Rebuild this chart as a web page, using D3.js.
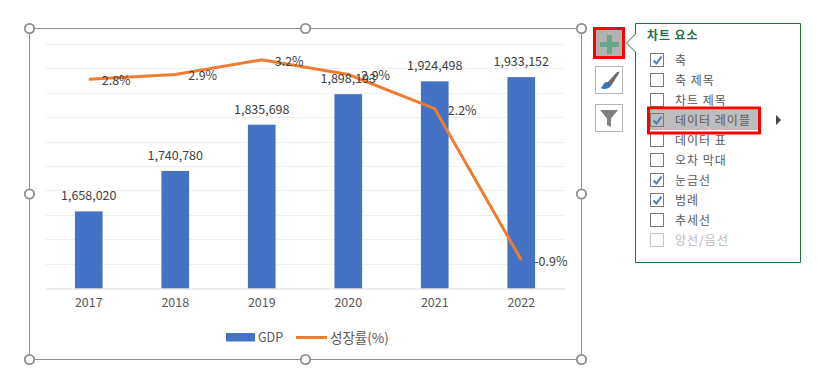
<!DOCTYPE html>
<html>
<head>
<meta charset="utf-8">
<script src="https://cdn.jsdelivr.net/npm/d3@7"></script>
<style>
  html, body { margin: 0; padding: 0; background: #fff; overflow: hidden; }
  text { font-family: "Noto Sans CJK KR", "Noto Sans", sans-serif; }
</style>
</head>
<body>
<script>
const years = ['2017', '2018', '2019', '2020', '2021', '2022'];
const gdp = [1658020, 1740780, 1835698, 1898193, 1924498, 1933152];
const growth = [2.8, 2.9, 3.2, 2.9, 2.2, -0.9];
const growthLabels = ['2.8%', '2.9%', '3.2%', '2.9%', '2.2%', '-0.9%'];
const seriesNames = ['GDP', '성장률(%)'];

const menuTitle = '차트 요소';
const menuItems = ['축', '축 제목', '차트 제목', '데이터 레이블', '데이터 표', '오차 막대', '눈금선', '범례', '추세선', '양선/음선'];
const menuChecked = [true, false, false, true, false, false, true, true, false, false];
const menuDisabled = [false, false, false, false, false, false, false, false, false, true];
const menuActive = 3;

const outerWidth = 818;
const outerHeight = 375;

const blue = '#4472c4';
const orange = '#ed7d31';
const green = '#217346';

const svg = d3.select('body').append('svg')
  .attr('width', outerWidth)
  .attr('height', outerHeight)
  .style('display', 'block');

// plot scales, the value axes are hidden in the original but the grid follows them
const xScale = d3.scaleBand().domain(years).range([45.5, 564.5]).paddingInner(0.68).paddingOuter(0.34);
const yScale = d3.scaleLinear().domain([1500000, 2000000]).range([288.5, 44.5]);
const y2Scale = d3.scaleLinear().domain([-1.5, 3.5]).range([289.2, 45.2]);
const center = d => xScale(d) + xScale.bandwidth() / 2;

// chart frame
svg.append('rect')
  .attr('x', 29.5).attr('y', 28.5)
  .attr('width', 552).attr('height', 331)
  .attr('fill', '#fff')
  .attr('stroke', '#8e8e8e');

// gridlines
svg.append('g').selectAll('line')
  .data(yScale.ticks(10).slice(1))
  .join('line')
    .attr('x1', 45.5).attr('x2', 564.5)
    .attr('y1', d => Math.floor(yScale(d)) + 0.5)
    .attr('y2', d => Math.floor(yScale(d)) + 0.5)
    .attr('stroke', '#f0f0f0');

// bars
svg.append('g').selectAll('rect')
  .data(gdp)
  .join('rect')
    .attr('x', (d, i) => xScale(years[i]))
    .attr('y', d => yScale(d))
    .attr('width', xScale.bandwidth())
    .attr('height', d => yScale.range()[0] - yScale(d))
    .attr('fill', blue);

// x axis
const xAxisG = svg.append('g')
  .attr('transform', 'translate(0,288.5)')
  .call(d3.axisBottom(xScale).tickSize(0).tickPadding(10));
xAxisG.select('.domain').attr('stroke', '#d9d9d9');
xAxisG.selectAll('text')
  .style('font-family', '"Noto Sans CJK KR", "Noto Sans", sans-serif')
  .style('font-size', '12.5px')
  .attr('fill', '#595959');

// growth line
const line = d3.line()
  .x((d, i) => center(years[i]))
  .y(d => y2Scale(d));
svg.append('path')
  .attr('d', line(growth))
  .attr('fill', 'none')
  .attr('stroke', orange)
  .attr('stroke-width', 3);

// data labels
svg.append('g').selectAll('text')
  .data(gdp)
  .join('text')
    .attr('x', (d, i) => center(years[i]))
    .attr('y', d => yScale(d) - 11)
    .attr('text-anchor', 'middle')
    .attr('font-size', 12.5)
    .attr('fill', '#404040')
    .text(d => d3.format(',')(d));

svg.append('g').selectAll('text')
  .data(growth)
  .join('text')
    .attr('x', (d, i) => center(years[i]) + 13)
    .attr('y', d => y2Scale(d) + 6)
    .attr('font-size', 12.5)
    .attr('fill', '#404040')
    .text((d, i) => growthLabels[i]);

// legend
const legendG = svg.append('g');
legendG.append('rect')
  .attr('x', 226).attr('y', 333)
  .attr('width', 29).attr('height', 8.5)
  .attr('fill', blue);
legendG.append('text')
  .attr('x', 258).attr('y', 341.5)
  .attr('font-size', 12.5)
  .attr('fill', '#595959')
  .text(seriesNames[0]);
legendG.append('line')
  .attr('x1', 296).attr('x2', 327)
  .attr('y1', 337.5).attr('y2', 337.5)
  .attr('stroke', orange)
  .attr('stroke-width', 3);
legendG.append('text')
  .attr('x', 330).attr('y', 342.5)
  .attr('font-size', 13.5)
  .attr('fill', '#595959')
  .text(seriesNames[1]);

// selection handles
const handleX = [29.5, 305.5, 581.5];
const handleY = [28.5, 194, 359.5];
handleX.forEach((hx, i) => handleY.forEach((hy, j) => {
  if (i === 1 && j === 1) return;
  svg.append('circle')
    .attr('cx', hx).attr('cy', hy).attr('r', 4.7)
    .attr('fill', '#fff')
    .attr('stroke', '#8e8e8e')
    .attr('stroke-width', 1.8);
}));

// side buttons
svg.append('rect')
  .attr('x', 594.5).attr('y', 28.5).attr('width', 29).attr('height', 29)
  .attr('fill', '#b2b2b2').attr('stroke', '#ff0000').attr('stroke-width', 3);
svg.append('path')
  .attr('d', 'M607 35h5v7h7v5h-7v7h-5v-7h-7v-5h7z')
  .attr('fill', '#6aa68b');

[66, 104].forEach(top => {
  svg.append('rect')
    .attr('x', 595.5).attr('y', top + 0.5).attr('width', 27).attr('height', 27)
    .attr('fill', '#fff').attr('stroke', '#b5b5b5');
});
// brush
svg.append('path')
  .attr('d', 'M607 83L617 72L619.5 71.5L618 75L611 86Z')
  .attr('fill', '#6d6d6d');
svg.append('path')
  .attr('d', 'M600.5 88C603 87.5 603 82 607 82C610.5 82 612 85 610 87C608 89.3 603 89.5 600.5 88Z')
  .attr('fill', '#3f74b5');
// filter
svg.append('path')
  .attr('d', 'M600 110H618L611 118.5V127L607 125V118.5Z')
  .attr('fill', '#7f7f7f');

// chart elements panel
svg.append('path')
  .attr('d', 'M635.5 23.5H800.5V262.5H635.5V52L626.5 43L635.5 34Z')
  .attr('fill', '#fff')
  .attr('stroke', green);

svg.append('text')
  .attr('x', 647).attr('y', 40)
  .attr('font-size', 12)
  .attr('font-weight', 700)
  .attr('letter-spacing', 0.9)
  .attr('fill', green)
  .text(menuTitle);

const rowScale = d3.scalePoint().domain(menuItems).range([60, 240]);

svg.append('rect')
  .attr('x', 650).attr('y', rowScale(menuItems[menuActive]) - 10)
  .attr('width', 108).attr('height', 20)
  .attr('fill', '#bdbdbd');

const rows = svg.append('g').selectAll('g')
  .data(menuItems)
  .join('g')
    .attr('transform', d => `translate(0,${rowScale(d)})`);

rows.append('rect')
  .attr('x', 650.5).attr('y', -6.5)
  .attr('width', 13).attr('height', 13)
  .attr('fill', (d, i) => i === menuActive ? '#bdbdbd' : '#fff')
  .attr('stroke', (d, i) => menuDisabled[i] ? '#c4c4c4' : '#7a7a7a');

rows.filter((d, i) => menuChecked[i]).append('path')
  .attr('d', 'M653.5 0.5L656.5 3.5L661.5 -3.5')
  .attr('fill', 'none')
  .attr('stroke', '#4a7ebb')
  .attr('stroke-width', 2);

rows.append('text')
  .attr('x', 675).attr('y', 4.5)
  .attr('font-size', 12)
  .attr('letter-spacing', 1)
  .attr('fill', (d, i) => menuDisabled[i] ? '#b8b8b8' : '#5a5a5a')
  .text(d => d);

svg.append('rect')
  .attr('x', 648.5).attr('y', rowScale(menuItems[menuActive]) - 12)
  .attr('width', 111).attr('height', 25)
  .attr('fill', 'none')
  .attr('stroke', '#ff0000')
  .attr('stroke-width', 3);

svg.append('path')
  .attr('d', `M776 ${rowScale(menuItems[menuActive]) - 5}L781 ${rowScale(menuItems[menuActive])}L776 ${rowScale(menuItems[menuActive]) + 5}Z`)
  .attr('fill', '#404040');
</script>
</body>
</html>
